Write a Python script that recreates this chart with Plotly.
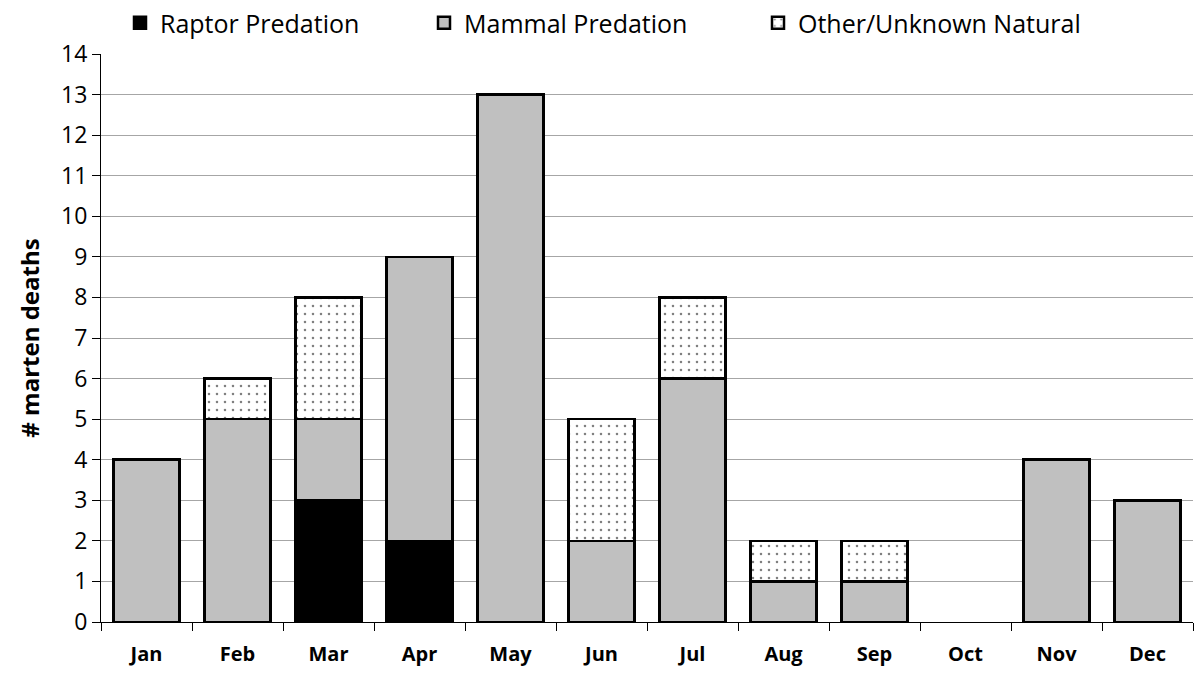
import plotly.graph_objects as go

months = ["Jan", "Feb", "Mar", "Apr", "May", "Jun", "Jul", "Aug", "Sep", "Oct", "Nov", "Dec"]
raptor = [None, None, 3, 2, None, None, None, None, None, None, None, None]
mammal = [4, 5, 2, 7, 13, 2, 6, 1, 1, None, 4, 3]
other = [None, 1, 3, None, None, 3, 2, 1, 1, None, None, None]

line = dict(color="black", width=2.5)

fig = go.Figure()
fig.add_trace(go.Bar(x=months, y=raptor, name="Raptor Predation", legend="legend",
                     marker=dict(color="black", line=line)))
fig.add_trace(go.Bar(x=months, y=mammal, name="Mammal Predation", legend="legend2",
                     marker=dict(color="#c0c0c0", line=line)))
fig.add_trace(go.Bar(x=months, y=other, name="Other/Unknown Natural", legend="legend3",
                     marker=dict(color="white", line=line,
                                 pattern=dict(shape=".", fgcolor="black", bgcolor="white",
                                              size=8, solidity=0.08))))

W, H = 1194, 675


def legend_at(px):
    return dict(orientation="h", x=px / W, xanchor="left", xref="container",
                y=1.0, yanchor="top", yref="container",
                font=dict(size=25), itemwidth=30)


fig.update_layout(
    barmode="stack",
    bargap=0.27,
    width=W, height=H,
    margin=dict(l=101, r=1, t=54, b=53, autoexpand=False),
    plot_bgcolor="white", paper_bgcolor="white",
    font=dict(family="Open Sans, Liberation Sans, sans-serif", color="black"),
    legend=legend_at(120),
    legend2=legend_at(424),
    legend3=legend_at(758),
    showlegend=True,
)
fig.update_xaxes(
    tickson="boundaries", ticks="outside", ticklen=8, tickcolor="black",
    showline=True, linecolor="black", linewidth=1,
    tickfont=dict(size=20, weight="bold"),
    ticklabelstandoff=14,
    showgrid=False,
)
fig.update_yaxes(
    range=[0, 14], dtick=1, ticks="outside", ticklen=8, tickcolor="black",
    showline=True, linecolor="black", linewidth=1,
    gridcolor="#a6a6a6", gridwidth=1,
    tickfont=dict(size=23),
    title=dict(text="# marten deaths", font=dict(size=24, weight="bold"), standoff=14),
)

fig.write_html("out.html")
